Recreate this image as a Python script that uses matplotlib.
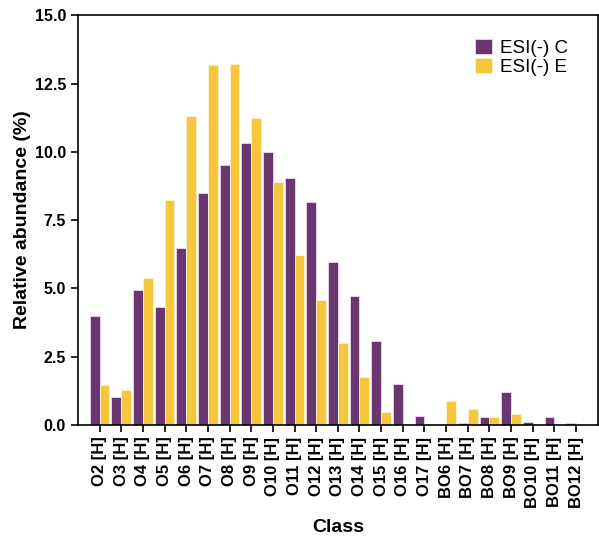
import matplotlib
matplotlib.use("Agg")
import matplotlib.pyplot as plt
import numpy as np

plt.rcParams['font.family'] = ['Liberation Sans', 'DejaVu Sans']

categories = ["O2 [H]", "O3 [H]", "O4 [H]", "O5 [H]", "O6 [H]", "O7 [H]", "O8 [H]",
              "O9 [H]", "O10 [H]", "O11 [H]", "O12 [H]", "O13 [H]", "O14 [H]",
              "O15 [H]", "O16 [H]", "O17 [H]", "BO6 [H]", "BO7 [H]", "BO8 [H]",
              "BO9 [H]", "BO10 [H]", "BO11 [H]", "BO12 [H]"]
esi_c = [3.99, 1.02, 4.93, 4.31, 6.48, 8.48, 9.51, 10.33, 9.98, 9.03, 8.15, 5.95,
         4.71, 3.06, 1.48, 0.32, 0.0, 0.07, 0.29, 1.20, 0.11, 0.28, 0.06]
esi_e = [1.47, 1.28, 5.38, 8.23, 11.32, 13.17, 13.21, 11.24, 8.88, 6.21, 4.56, 3.01,
         1.76, 0.48, 0.0, 0.0, 0.89, 0.57, 0.27, 0.38, 0.0, 0.0, 0.0]
yticks = [0.0, 2.5, 5.0, 7.5, 10.0, 12.5, 15.0]

purple = "#6a3670"
yellow = "#f6c63c"

fig = plt.figure(figsize=(5.99, 5.44), dpi=100)
ax = fig.add_axes([0.130, 0.219, 0.868, 0.753])

x = np.arange(len(categories))
w = 0.46
ax.bar(x - w / 2, esi_c, width=w, color=purple, edgecolor="#e8dcea", linewidth=0.6, label="ESI(-) C")
ax.bar(x + w / 2, esi_e, width=w, color=yellow, edgecolor="#fdf3d6", linewidth=0.6, label="ESI(-) E")

ax.set_xlim(-1, len(categories))
ax.set_ylim(0, 15)
ax.set_yticks(yticks)
ax.set_yticklabels([f"{v:.1f}" for v in yticks], fontsize=11.5, fontweight="bold")
ax.set_xticks(x)
ax.set_xticklabels(categories, rotation=90, fontsize=12, fontweight="bold")
ax.tick_params(axis="both", direction="out", length=5, width=1.2, color="black")

for s in ax.spines.values():
    s.set_linewidth(1.2)
    s.set_color("black")

ax.set_xlabel("Class", fontsize=14, fontweight="bold", labelpad=8)
ax.set_ylabel("Relative abundance (%)", fontsize=14, fontweight="bold", labelpad=3)

leg = ax.legend(loc="upper right", bbox_to_anchor=(0.967, 0.975), frameon=False, fontsize=13.5,
                handlelength=0.9, handleheight=0.9, handletextpad=0.4, labelspacing=0.05,
                borderpad=0.2)

fig.savefig("out.png", dpi=100)
